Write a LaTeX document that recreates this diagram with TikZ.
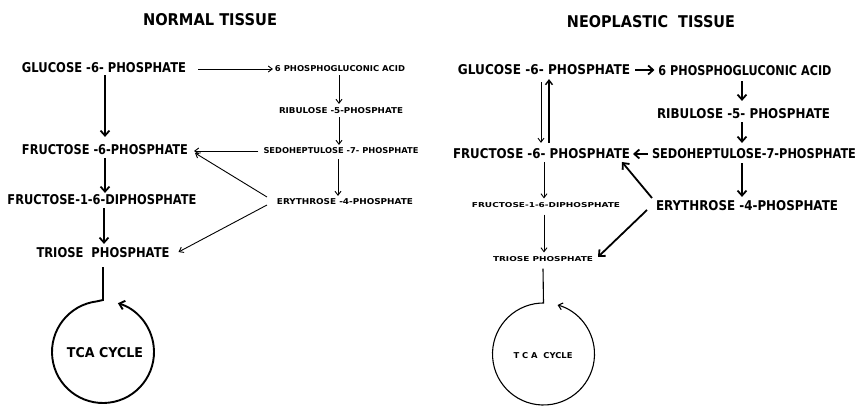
\documentclass[tikz,border=0pt]{standalone}
\usepackage{fontspec}
\setmainfont{DejaVu Sans}
\usetikzlibrary{arrows.meta,calc}
\newcommand{\lbl}[3]{\resizebox{#1pt}{#2pt}{\bfseries #3}}
\tikzset{
  lab/.style={inner sep=0pt, outer sep=0pt, anchor=center},
  thinar/.style={line width=0.9pt, -{Straight Barb[length=4pt,width=6pt]}},
  thkar/.style={line width=1.8pt, -{Straight Barb[length=5pt,width=9pt]}},
  thinln/.style={line width=1pt},
  thkln/.style={line width=1.9pt},
}
\begin{document}
\begin{tikzpicture}[x=1pt,y=-1pt]
\useasboundingbox (0,0) rectangle (857,406);
% ---------------- NORMAL TISSUE ----------------
\node[lab] (n1) at (210,20) {\lbl{134}{12}{NORMAL TISSUE}};
\node[lab] (g1) at (104,68) {\lbl{164}{10}{GLUCOSE -6- PHOSPHATE}};
\node[lab] (p1) at (340,69) {\lbl{130}{6}{6 PHOSPHOGLUCONIC ACID}};
\node[lab] (r1) at (341,111) {\lbl{124}{6}{RIBULOSE -5-PHOSPHATE}};
\node[lab] (s1) at (341,151) {\lbl{155}{6}{SEDOHEPTULOSE -7- PHOSPHATE}};
\node[lab] (f1) at (105,150) {\lbl{166}{10}{FRUCTOSE -6-PHOSPHATE}};
\node[lab] (d1) at (102,200) {\lbl{189}{10}{FRUCTOSE-1-6-DIPHOSPHATE}};
\node[lab] (e1) at (345,202) {\lbl{136}{6}{ERYTHROSE -4-PHOSPHATE}};
\node[lab] (t1) at (103,253) {\lbl{133}{10}{TRIOSE\ \ PHOSPHATE}};
\coordinate (c1) at (103,352);
\node[lab] (tca1) at (105,353) {\lbl{76}{10}{TCA CYCLE}};

\draw[thkar] ($(g1.south)+(1,2)$) -- ($(f1.north)+(0,-8)$);
\draw[thkar] ($(f1.south)+(0,3)$) -- ($(d1.north)+(3,-2)$);
\draw[thkar] ($(d1.south)+(2,3)$) -- ($(t1.north)+(1,-4)$);
\draw[thinar] ($(g1.east)+(12,1)$) -- ($(p1.west)+(-2,0)$);
\draw[thinar] ($(p1.south)+(-1,3)$) -- ($(r1.north)+(-2,-4)$);
\draw[thinar] ($(r1.south)+(-2,3)$) -- ($(s1.north)+(-2,-3)$);
\draw[thinar] ($(s1.west)+(-5,0)$) -- ($(f1.east)+(6,1)$);
\draw[thinar] ($(s1.south)+(-3,5)$) -- ($(e1.north)+(-7,-3)$);
\draw[thinar] ($(e1.west)+(-10,-5)$) -- ($(f1.east)+(7,3)$);
\draw[thinar] ($(e1.west)+(-10,3)$) -- ($(t1.east)+(9,-1)$);
\draw[thkln,-{Straight Barb[length=5pt,width=9pt]}]
  ($(t1.south)+(0,9)$) -- ($(c1)+(0,-52)$) -- ($(c1)+(-97:51)$)
  arc[start angle=-97,end angle=-433,radius=51];

% ---------------- NEOPLASTIC TISSUE ----------------
\node[lab] (n2) at (651,22) {\lbl{168}{12}{NEOPLASTIC\ \ TISSUE}};
\node[lab] (g2) at (544,70) {\lbl{172}{10}{GLUCOSE -6- PHOSPHATE}};
\node[lab] (p2) at (745,71) {\lbl{173}{10}{6 PHOSPHOGLUCONIC ACID}};
\node[lab] (r2) at (743.5,114) {\lbl{173}{10}{RIBULOSE -5- PHOSPHATE}};
\node[lab] (s2) at (754,154) {\lbl{204}{10}{SEDOHEPTULOSE-7-PHOSPHATE}};
\node[lab] (f2) at (541.5,154) {\lbl{177}{10}{FRUCTOSE -6- PHOSPHATE}};
\node[lab] (d2) at (546,205) {\lbl{148}{5}{FRUCTOSE-1-6-DIPHOSPHATE}};
\node[lab] (e2) at (747,206) {\lbl{182}{10}{ERYTHROSE -4-PHOSPHATE}};
\node[lab] (t2) at (543,259) {\lbl{100}{5}{TRIOSE PHOSPHATE}};
\coordinate (c2) at (543.5,354);
\node[lab] (tca2) at (543,356) {\lbl{59}{6}{T C A\ \ CYCLE}};

\draw[thkar] ($(g2.east)+(5,0)$) -- ($(p2.west)+(-4,-1)$);
\draw[thkar] ($(p2.south)+(-3,5)$) -- ($(r2.north)+(-1.5,-8)$);
\draw[thkar] ($(r2.south)+(-1.5,3)$) -- ($(s2.north)+(-12,-6)$);
\draw[thkar] ($(s2.west)+(-4,0)$) -- ($(f2.east)+(3,0)$);
\draw[thkar] ($(s2.south)+(-12,4)$) -- ($(e2.north)+(-5,-4)$);
\draw[thkar] ($(e2.west)+(-4,-8)$) -- ($(f2.east)+(-8,8)$);
\draw[thkar] ($(e2.west)+(-9,4)$) -- ($(t2.east)+(5,-2)$);
\draw[thinar] ($(g2.south)+(-3,7)$) -- ($(f2.north)+(-0.5,-6)$);
\draw[line width=1.4pt,-{Straight Barb[length=4.5pt,width=7pt]}] ($(f2.north)+(7.5,-6)$) -- ($(g2.south)+(5,4)$);
\draw[thinar] ($(f2.south)+(2.5,3)$) -- ($(d2.north)+(-2,-4)$);
\draw[thinar] ($(d2.south)+(-2,7)$) -- ($(t2.north)+(1,-4)$);
\draw[line width=1.1pt,-{Straight Barb[length=4pt,width=7pt]}]
  ($(t2.south)+(0,7)$) -- ($(c2)+(0,-51)$) -- ($(c2)+(-94:51)$)
  arc[start angle=-94,end angle=-434,radius=51];
\end{tikzpicture}
\end{document}
